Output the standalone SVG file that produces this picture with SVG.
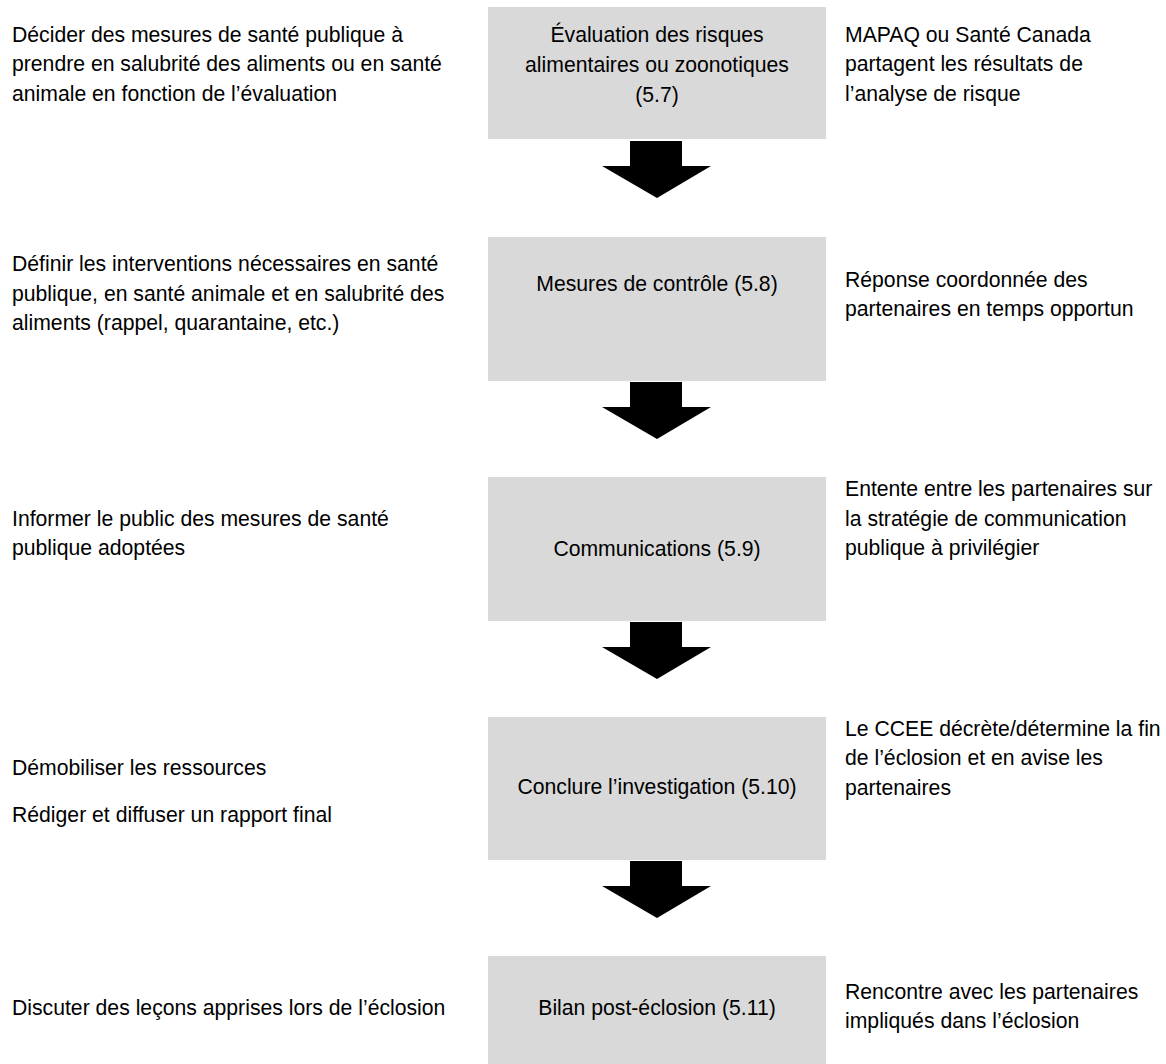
<svg xmlns="http://www.w3.org/2000/svg" width="1166" height="1064" viewBox="0 0 1166 1064">
<style>
text{font-family:"Liberation Sans",Arial,sans-serif;font-size:21.2px;fill:#000}
.box{fill:#d9d9d9}
.c{text-anchor:middle}
.arrow{fill:#000}
</style>
<rect width="1166" height="1064" fill="#fff"/>
<g id="node1">
<rect class="box" x="488" y="7" width="338" height="132"/>
<text class="c" x="657" y="42">Évaluation des risques</text>
<text class="c" x="657" y="72">alimentaires ou zoonotiques</text>
<text class="c" x="657" y="102">(5.7)</text>
</g>
<g id="node1-left">
<text x="12" y="42">Décider des mesures de santé publique à</text>
<text x="12" y="71">prendre en salubrité des aliments ou en santé</text>
<text x="12" y="101">animale en fonction de l’évaluation</text>
</g>
<g id="node1-right">
<text x="845" y="42">MAPAQ ou Santé Canada</text>
<text x="845" y="71">partagent les résultats de</text>
<text x="845" y="101">l’analyse de risque</text>
</g>
<g id="node2">
<rect class="box" x="488" y="237" width="338" height="144"/>
<text class="c" x="657" y="291">Mesures de contrôle (5.8)</text>
</g>
<g id="node2-left">
<text x="12" y="271">Définir les interventions nécessaires en santé</text>
<text x="12" y="301">publique, en santé animale et en salubrité des</text>
<text x="12" y="330">aliments (rappel, quarantaine, etc.)</text>
</g>
<g id="node2-right">
<text x="845" y="287">Réponse coordonnée des</text>
<text x="845" y="316">partenaires en temps opportun</text>
</g>
<g id="node3">
<rect class="box" x="488" y="477" width="338" height="144"/>
<text class="c" x="657" y="556">Communications (5.9)</text>
</g>
<g id="node3-left">
<text x="12" y="526">Informer le public des mesures de santé</text>
<text x="12" y="555">publique adoptées</text>
</g>
<g id="node3-right">
<text x="845" y="496">Entente entre les partenaires sur</text>
<text x="845" y="526">la stratégie de communication</text>
<text x="845" y="555">publique à privilégier</text>
</g>
<g id="node4">
<rect class="box" x="488" y="717" width="338" height="143"/>
<text class="c" x="657" y="794">Conclure l’investigation (5.10)</text>
</g>
<g id="node4-left">
<text x="12" y="775">Démobiliser les ressources</text>
<text x="12" y="822">Rédiger et diffuser un rapport final</text>
</g>
<g id="node4-right">
<text x="845" y="736">Le CCEE décrète/détermine la fin</text>
<text x="845" y="765">de l’éclosion et en avise les</text>
<text x="845" y="795">partenaires</text>
</g>
<g id="node5">
<rect class="box" x="488" y="956" width="338" height="108"/>
<text class="c" x="657" y="1015">Bilan post-éclosion (5.11)</text>
</g>
<g id="node5-left">
<text x="12" y="1015">Discuter des leçons apprises lors de l’éclosion</text>
</g>
<g id="node5-right">
<text x="845" y="999">Rencontre avec les partenaires</text>
<text x="845" y="1028">impliqués dans l’éclosion</text>
</g>
<g id="connectors">
<polygon class="arrow" points="630,141 682,141 682,166 711,166 657,198 602,166 630,166"/>
<polygon class="arrow" points="630,382 682,382 682,407 711,407 657,439 602,407 630,407"/>
<polygon class="arrow" points="630,622 682,622 682,647 711,647 657,679 602,647 630,647"/>
<polygon class="arrow" points="630,861 682,861 682,886 711,886 657,918 602,886 630,886"/>
</g>
</svg>
